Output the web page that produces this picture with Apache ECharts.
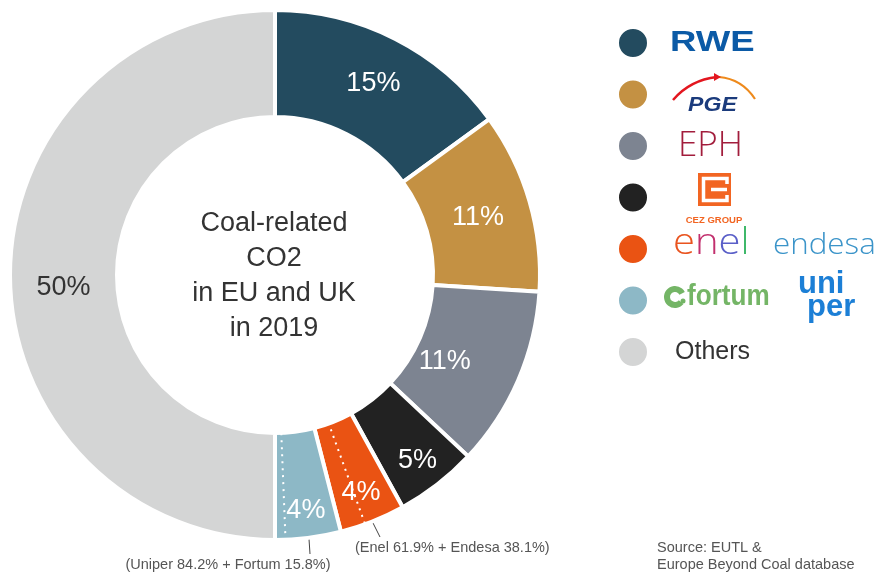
<!DOCTYPE html>
<html>
<head>
<meta charset="utf-8">
<style>
  html, body { margin: 0; padding: 0; background: #ffffff; }
  #chart { width: 880px; height: 574px; }
</style>
<script src="https://cdn.jsdelivr.net/npm/echarts@6/dist/echarts.min.js"></script>
</head>
<body>
<div id="chart"></div>
<script>
// ---- data ----
const companies = ['RWE', 'PGE', 'EPH', 'ČEZ', 'Enel', 'Fortum', 'Others'];
const shares = [15, 11, 11, 5, 4, 4, 50];              // % of coal-related CO2, EU+UK 2019
const enelSplit = [61.9, 38.1];                         // Enel, Endesa
const fortumSplit = [84.2, 15.8];                       // Uniper, Fortum
const colors = ['#234b5f', '#c49143', '#7d8491', '#222222', '#ea5313', '#8db8c6', '#d4d5d5'];
const centerTitle = ['Coal-related', 'CO2', 'in EU and UK', 'in 2019'];
const sourceText = ['Source: EUTL &', 'Europe Beyond Coal database'];

// manual label nudges (label style, as in the reference)
const labelNudge = [[1, 0], [-3, 2], [-27, 1], [11, 16], [7, 18], [4, 23], [3, 13]];

const FONT = '"Liberation Sans", "Helvetica Neue", Arial, sans-serif';
const CX = 275, CY = 275, R0 = 158, R1 = 265;

const mainData = companies.map((n, i) => ({
  name: n,
  value: shares[i],
  itemStyle: { color: colors[i] },
  label: { color: n === 'Others' ? '#333333' : '#ffffff' }
}));

// overlay: splits drawn as dotted white separators
const splitData = [
  { name: 's0', value: shares[0] },
  { name: 's1', value: shares[1] },
  { name: 's2', value: shares[2] },
  { name: 's3', value: shares[3] },
  { name: 'Enel part', value: shares[4] * enelSplit[0] / 100, dotted: true },
  { name: 'Endesa part', value: shares[4] * enelSplit[1] / 100 },
  { name: 'Uniper part', value: shares[5] * fortumSplit[0] / 100, dotted: true },
  { name: 'Fortum part', value: shares[5] * fortumSplit[1] / 100 },
  { name: 's6', value: shares[6] }
].map(d => ({
  name: d.name,
  value: d.value,
  itemStyle: d.dotted
    ? { color: 'rgba(0,0,0,0)', borderColor: '#ffffff', borderWidth: 2, borderType: [2, 5] }
    : { color: 'rgba(0,0,0,0)', borderWidth: 0 }
}));

const chart = echarts.init(document.getElementById('chart'), null, { renderer: 'canvas' });

const enelFont = '300 37px "Open Sans", ' + FONT;

const graphics = [
  // center title
  {
    type: 'text', x: 274, y: 276,
    style: {
      text: centerTitle.join('\n'), font: '27px ' + FONT, fill: '#333333',
      align: 'center', verticalAlign: 'middle', lineHeight: 35
    }
  },
  // RWE
  {
    type: 'text', x: 670, y: 43, scaleX: 1.26,
    style: { text: 'RWE', font: 'bold 29px ' + FONT, fill: '#0b5aa6', align: 'left', verticalAlign: 'middle' }
  },
  // PGE
  {
    type: 'bezierCurve',
    shape: { x1: 673, y1: 100, cpx1: 690, cpy1: 80, x2: 717, y2: 77 },
    style: { stroke: '#e3161f', lineWidth: 2.5, fill: null }
  },
  {
    type: 'bezierCurve',
    shape: { x1: 719, y1: 77, cpx1: 742, cpy1: 79, x2: 755, y2: 99 },
    style: { stroke: '#ee8a1c', lineWidth: 2.2, fill: null }
  },
  {
    type: 'polygon', shape: { points: [[714, 73], [721, 77], [714, 81]] },
    style: { fill: '#e3161f' }
  },
  {
    type: 'text', x: 688, y: 105, scaleX: 1.1,
    style: { text: 'PGE', font: 'italic bold 21px ' + FONT, fill: '#1b3b7c', align: 'left', verticalAlign: 'middle' }
  },
  // EPH
  {
    type: 'text', x: 678, y: 146,
    style: { text: 'EPH', font: '300 35px "Open Sans", ' + FONT, fill: '#a21d3c', align: 'left', verticalAlign: 'middle' }
  },
  // CEZ
  {
    type: 'rect', shape: { x: 698, y: 173, width: 33, height: 33 },
    style: { fill: '#f26522' }
  },
  {
    type: 'polyline', shape: { points: [[727, 184], [727, 178.5], [703.5, 178.5], [703.5, 200.5], [727, 200.5], [727, 195]] },
    style: { stroke: '#ffffff', lineWidth: 3.5, fill: null }
  },
  {
    type: 'polyline', shape: { points: [[711, 189.5], [727, 189.5]] },
    style: { stroke: '#ffffff', lineWidth: 3.5, fill: null }
  },
  {
    type: 'text', x: 714, y: 220,
    style: { text: 'CEZ GROUP', font: 'bold 9.5px ' + FONT, fill: '#f26522', align: 'center', verticalAlign: 'middle' }
  },
  // enel / endesa
  {
    type: 'text', x: 673, y: 243, scaleX: 1.08,
    style: {
      text: '{a|e}{b|n}{c|e}{d|l}', align: 'left', verticalAlign: 'middle',
      font: enelFont,
      rich: {
        a: { font: enelFont, fill: '#e9541f' },
        b: { font: enelFont, fill: '#c2306e' },
        c: { font: enelFont, fill: '#5a5fc8' },
        d: { font: enelFont, fill: '#3fb86a' }
      }
    }
  },
  {
    type: 'text', x: 773, y: 246, scaleX: 1.08,
    style: { text: 'endesa', font: '300 29px "Open Sans", ' + FONT, fill: '#3b94c9', align: 'left', verticalAlign: 'middle' }
  },
  // fortum
  {
    type: 'arc', shape: { cx: 675, cy: 297, r: 8, startAngle: Math.PI * 0.22, endAngle: Math.PI * 1.85, clockwise: true },
    style: { stroke: '#74b566', lineWidth: 6, fill: null }
  },
  {
    type: 'circle', shape: { cx: 683, cy: 301, r: 2.5 },
    style: { fill: '#74b566' }
  },
  {
    type: 'text', x: 687, y: 297, scaleX: 0.87,
    style: { text: 'fortum', font: 'bold 30px ' + FONT, fill: '#74b566', align: 'left', verticalAlign: 'middle' }
  },
  // uniper
  {
    type: 'text', x: 798, y: 284,
    style: { text: 'uni', font: 'bold 31px ' + FONT, fill: '#1c7fd6', align: 'left', verticalAlign: 'middle' }
  },
  {
    type: 'text', x: 807, y: 307,
    style: { text: 'per', font: 'bold 31px ' + FONT, fill: '#1c7fd6', align: 'left', verticalAlign: 'middle' }
  },
  // Others
  {
    type: 'text', x: 675, y: 352,
    style: { text: 'Others', font: '25px ' + FONT, fill: '#333333', align: 'left', verticalAlign: 'middle' }
  },
  // annotations
  {
    type: 'line', shape: { x1: 309, y1: 539, x2: 310, y2: 554 },
    style: { stroke: '#444444', lineWidth: 1 }
  },
  {
    type: 'text', x: 228, y: 565,
    style: {
      text: '(Uniper ' + fortumSplit[0] + '% + Fortum ' + fortumSplit[1] + '%)',
      font: '14.5px ' + FONT, fill: '#555555', align: 'center', verticalAlign: 'middle'
    }
  },
  {
    type: 'line', shape: { x1: 373, y1: 523, x2: 380, y2: 537 },
    style: { stroke: '#444444', lineWidth: 1 }
  },
  {
    type: 'text', x: 355, y: 548,
    style: {
      text: '(Enel ' + enelSplit[0] + '% + Endesa ' + enelSplit[1] + '%)',
      font: '14.5px ' + FONT, fill: '#555555', align: 'left', verticalAlign: 'middle'
    }
  },
  {
    type: 'text', x: 657, y: 556,
    style: {
      text: sourceText.join('\n'), font: '14.5px ' + FONT, fill: '#555555',
      align: 'left', verticalAlign: 'middle', lineHeight: 17
    }
  }
];

chart.setOption({
  backgroundColor: '#ffffff',
  animation: false,
  legend: {
    orient: 'vertical',
    left: 617,
    top: 27,
    padding: 0,
    itemWidth: 30,
    itemHeight: 30,
    itemGap: 19.5,
    icon: 'circle',
    data: companies,
    formatter: () => '',
    textStyle: { fontSize: 10 },
    selectedMode: false
  },
  graphic: { elements: graphics },
  series: [
    {
      type: 'pie',
      center: [CX, CY],
      radius: [R0, R1],
      startAngle: 90,
      clockwise: true,
      avoidLabelOverlap: false,
      emphasis: { disabled: true },
      itemStyle: { borderColor: '#ffffff', borderWidth: 4 },
      label: {
        show: true,
        position: 'inside',
        formatter: '{c}%',
        fontFamily: FONT,
        fontSize: 27,
        fontWeight: 'normal'
      },
      labelLine: { show: false },
      labelLayout: (p) => ({ dx: labelNudge[p.dataIndex][0], dy: labelNudge[p.dataIndex][1] }),
      data: mainData
    },
    {
      type: 'pie',
      silent: true,
      center: [CX, CY],
      radius: [R0 - 6, R1 + 6],
      startAngle: 90,
      clockwise: true,
      z: 5,
      label: { show: false },
      labelLine: { show: false },
      emphasis: { disabled: true },
      data: splitData
    }
  ]
});
</script>
</body>
</html>
